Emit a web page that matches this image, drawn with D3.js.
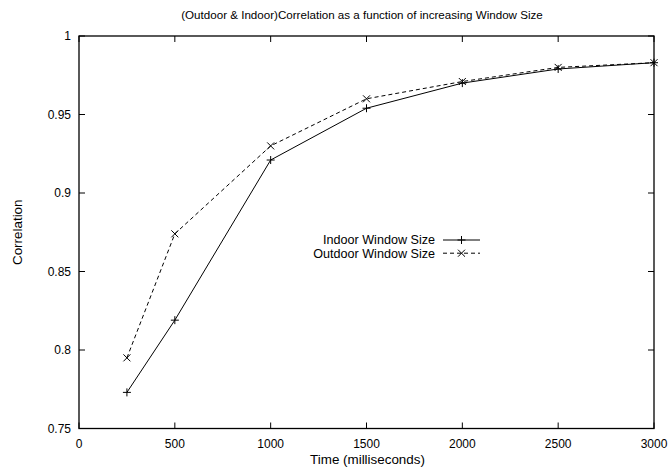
<!DOCTYPE html>
<html>
<head>
<script src="https://d3js.org/d3.v7.min.js"></script>
<style>
  body { margin: 0; background: #fff; }
  text { font-family: "Liberation Sans", Arial, sans-serif; fill: #000; }
</style>
</head>
<body>
<script>
const W = 669, H = 468
const margin = { left: 79, right: 15, top: 36, bottom: 39.5 }

// window sizes (ms)
const windowSizes = [250, 500, 1000, 1500, 2000, 2500, 3000]
const indoor = [0.773, 0.819, 0.921, 0.954, 0.970, 0.979, 0.983]
const outdoor = [0.795, 0.874, 0.930, 0.960, 0.971, 0.980, 0.983]
const xTicks = [0, 500, 1000, 1500, 2000, 2500, 3000]
const yTicks = [0.75, 0.8, 0.85, 0.9, 0.95, 1]
const seriesNames = ["Indoor Window Size", "Outdoor Window Size"]

const svg = d3.select("body").append("svg").attr("width", W).attr("height", H)

const x = d3.scaleLinear().domain([0, 3000]).range([margin.left, W - margin.right])
const y = d3.scaleLinear().domain([0.75, 1]).range([H - margin.bottom, margin.top])

// ticks, gnuplot style: inward on both sides
const tl = 6
const ax = svg.append("g").attr("stroke", "#000").attr("stroke-width", 1)
xTicks.forEach(t => {
  ax.append("line").attr("x1", x(t)).attr("x2", x(t)).attr("y1", y(0.75)).attr("y2", y(0.75) - tl)
  ax.append("line").attr("x1", x(t)).attr("x2", x(t)).attr("y1", y(1)).attr("y2", y(1) + tl)
})
yTicks.forEach(t => {
  ax.append("line").attr("x1", x(0)).attr("x2", x(0) + tl).attr("y1", y(t)).attr("y2", y(t))
  ax.append("line").attr("x1", x(3000)).attr("x2", x(3000) - tl).attr("y1", y(t)).attr("y2", y(t))
})

svg.selectAll(".xl").data(xTicks).enter().append("text")
  .attr("x", d => x(d)).attr("y", y(0.75) + 19)
  .attr("text-anchor", "middle").attr("font-size", 12).text(d => d)
svg.selectAll(".yl").data(yTicks).enter().append("text")
  .attr("x", x(0) - 8).attr("y", d => y(d) + 4)
  .attr("text-anchor", "end").attr("font-size", 12).text(d => d)

// frame
svg.append("rect")
  .attr("x", x(0)).attr("y", y(1))
  .attr("width", x(3000) - x(0)).attr("height", y(0.75) - y(1))
  .attr("fill", "none").attr("stroke", "#000").attr("stroke-width", 1.3)

svg.append("text").attr("x", 362).attr("y", 19)
  .attr("text-anchor", "middle").attr("font-size", 11.6)
  .text("(Outdoor & Indoor)Correlation as a function of increasing Window Size")
svg.append("text").attr("x", 367.5).attr("y", 464)
  .attr("text-anchor", "middle").attr("font-size", 13.4).text("Time (milliseconds)")
svg.append("text").attr("transform", "translate(22," + (y(0.875)) + ") rotate(-90)")
  .attr("text-anchor", "middle").attr("font-size", 13.4).text("Correlation")

const line = d3.line().x(d => x(d[0])).y(d => y(d[1]))

function plus(g, cx, cy) {
  g.append("path").attr("d", `M${cx - 4},${cy}H${cx + 4}M${cx},${cy - 4}V${cy + 4}`)
}
function cross(g, cx, cy) {
  g.append("path").attr("d", `M${cx - 3.5},${cy - 3.5}L${cx + 3.5},${cy + 3.5}M${cx - 3.5},${cy + 3.5}L${cx + 3.5},${cy - 3.5}`)
}

const series = [
  { name: seriesNames[0], vals: indoor, dash: null, mark: plus },
  { name: seriesNames[1], vals: outdoor, dash: "4,3", mark: cross }
]

series.forEach((s, i) => {
  const pts = windowSizes.map((w, j) => [w, s.vals[j]])
  svg.append("path").datum(pts).attr("d", line)
    .attr("fill", "none").attr("stroke", "#000").attr("stroke-width", 1)
    .attr("stroke-dasharray", s.dash)
  const mg = svg.append("g").attr("stroke", "#000").attr("stroke-width", 1)
  pts.forEach(p => s.mark(mg, x(p[0]), y(p[1])))

  // legend
  const ly = 240 + i * 13.2
  svg.append("text").attr("x", 435).attr("y", ly + 4.3)
    .attr("text-anchor", "end").attr("font-size", 12.6).text(s.name)
  svg.append("line").attr("x1", 443).attr("x2", 480).attr("y1", ly).attr("y2", ly)
    .attr("stroke", "#000").attr("stroke-width", 1).attr("stroke-dasharray", s.dash)
  s.mark(mg, 461.5, ly)
})
</script>
</body>
</html>
